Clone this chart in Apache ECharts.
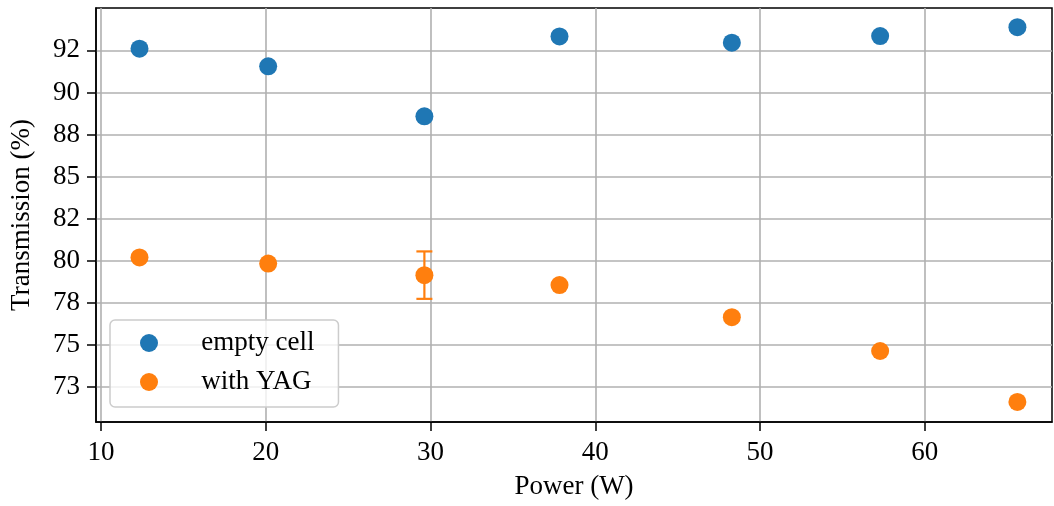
<!DOCTYPE html>
<html>
<head>
<meta charset="utf-8">
<title>Transmission vs Power</title>
<script src="https://cdn.jsdelivr.net/npm/echarts@6/dist/echarts.min.js"></script>
<style>
  html, body { margin: 0; padding: 0; background: #fff; }
  #main { width: 1054px; height: 506px; }
</style>
</head>
<body>
<div id="main"></div>
<script>
// data
const power = [12.34, 20.15, 29.63, 37.83, 48.29, 57.29, 65.62];
const emptyCell = [92.60, 91.55, 88.58, 93.33, 92.96, 93.35, 93.88];
const withYag = [80.19, 79.83, 79.14, 78.55, 76.64, 74.63, 71.60];
const withYagErr = [0, 0, 1.41, 0, 0, 0, 0];

// tick positions and the (rounded) labels shown on them
const xTicks = [10, 20, 30, 40, 50, 60];
const yTicks = [72.5, 75, 77.5, 80, 82.5, 85, 87.5, 90, 92.5];
const yTickLabels = ['73', '75', '78', '80', '82', '85', '88', '90', '92'];

const FONT = 'Liberation Serif';
const BLUE = '#1f77b4';
const ORANGE = '#ff7f0e';

const chart = echarts.init(document.getElementById('main'), null, { renderer: 'canvas' });

const option = {
  animation: false,
  textStyle: { fontFamily: FONT },
  grid: {
    left: 96, top: 8, right: 2, bottom: 84,
    outerBoundsMode: 'none',
    containLabel: false,
    show: true,
    borderColor: '#000',
    borderWidth: 1.5,
    backgroundColor: 'transparent'
  },
  legend: {
    orient: 'vertical',
    left: 110,
    top: 320,
    padding: [8, 24, 10, 30],
    itemGap: 9,
    itemWidth: 54,
    itemHeight: 18,
    backgroundColor: 'rgba(255,255,255,0.8)',
    borderColor: '#cccccc',
    borderWidth: 1.5,
    borderRadius: 5,
    // a few spaces push the text further from the marker, like matplotlib
    formatter: name => '   ' + name,
    textStyle: {
      fontFamily: FONT,
      fontSize: 27,
      color: '#000',
      lineHeight: 30
    },
    data: [
      { name: 'empty cell', icon: 'circle' },
      { name: 'with YAG', icon: 'circle' }
    ]
  },
  xAxis: {
    type: 'value',
    min: 9.7,
    max: 67.72,
    name: 'Power (W)',
    nameLocation: 'middle',
    nameGap: 51,
    nameTextStyle: { fontFamily: FONT, fontSize: 27, color: '#000' },
    axisLine: { show: true, lineStyle: { color: '#000', width: 1.5 } },
    axisTick: { show: true, customValues: xTicks, length: 9, lineStyle: { color: '#000', width: 1.5 } },
    axisLabel: {
      customValues: xTicks,
      margin: 17,
      fontFamily: FONT, fontSize: 27, color: '#000'
    },
    splitLine: { show: true, lineStyle: { color: '#b0b0b0', width: 1.6 } }
  },
  yAxis: {
    type: 'value',
    min: 70.41,
    max: 95.02,
    name: 'Transmission (%)',
    nameLocation: 'middle',
    nameGap: 61,
    nameRotate: 90,
    nameTextStyle: { fontFamily: FONT, fontSize: 27, color: '#000' },
    axisLine: { show: true, lineStyle: { color: '#000', width: 1.5 } },
    axisTick: { show: true, customValues: yTicks, length: 9, lineStyle: { color: '#000', width: 1.5 } },
    axisLabel: {
      customValues: yTicks,
      margin: 16,
      fontFamily: FONT, fontSize: 27, color: '#000',
      formatter: function (v) {
        const i = yTicks.findIndex(t => Math.abs(t - v) < 1e-6);
        return i >= 0 ? yTickLabels[i] : '';
      }
    },
    splitLine: { show: true, lineStyle: { color: '#b0b0b0', width: 1.6 } }
  },
  series: [
    {
      name: 'empty cell',
      type: 'scatter',
      symbol: 'circle',
      symbolSize: 18,
      itemStyle: { color: BLUE, opacity: 1 },
      data: power.map((p, i) => [p, emptyCell[i]]),
      z: 3
    },
    {
      // error bars for the YAG points, drawn below the dots
      name: 'with YAG',
      type: 'custom',
      data: power.map((p, i) => [p, withYag[i], withYagErr[i]]),
      renderItem: function (params, api) {
        const err = api.value(2);
        if (!err) return null;
        const x = api.value(0), y = api.value(1);
        const hi = api.coord([x, y + err]);
        const lo = api.coord([x, y - err]);
        const cap = 8;
        const style = { stroke: ORANGE, lineWidth: 2.2 };
        return {
          type: 'group',
          children: [
            { type: 'line', shape: { x1: hi[0], y1: hi[1], x2: lo[0], y2: lo[1] }, style: style },
            { type: 'line', shape: { x1: hi[0] - cap, y1: hi[1], x2: hi[0] + cap, y2: hi[1] }, style: style },
            { type: 'line', shape: { x1: lo[0] - cap, y1: lo[1], x2: lo[0] + cap, y2: lo[1] }, style: style }
          ]
        };
      },
      itemStyle: { color: ORANGE },
      z: 2
    },
    {
      name: 'with YAG',
      type: 'scatter',
      symbol: 'circle',
      symbolSize: 18,
      itemStyle: { color: ORANGE, opacity: 1 },
      data: power.map((p, i) => [p, withYag[i]]),
      z: 3
    }
  ]
};

chart.setOption(option);
</script>
</body>
</html>
